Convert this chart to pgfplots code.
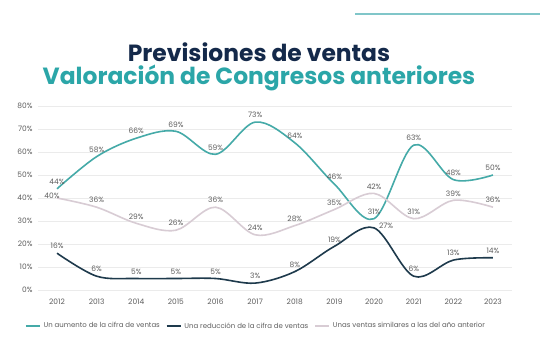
\documentclass[border=0pt]{standalone}
\usepackage{pgfplots}
\usepackage{pgfplotstable}
\pgfplotsset{compat=1.18}
\usepackage{fontspec}
\setmainfont{Poppins}
\definecolor{tealL}{HTML}{45AAA8}
\definecolor{navyL}{HTML}{1E3A4C}
\definecolor{grayL}{HTML}{D8CCD4}
\definecolor{titleN}{HTML}{14294A}
\definecolor{titleT}{HTML}{2BA6A8}
\definecolor{topline}{HTML}{80C6C9}
\definecolor{gridc}{HTML}{EBEBEB}
\definecolor{txt}{HTML}{5E5E5E}

\pgfplotstableread{
x y dx dy
2012 44 0 0
2013 58 0 0
2014 66 0 0
2015 69 0 0
2016 59 0 0
2017 73 0 0
2018 64 0 0
2019 46 0 0
2020 31 0 0
2021 63 0 0
2022 48 0 0
2023 50 0 0
}\aumento
\pgfplotstableread{
x y dx dy
2012 16 0 0
2013 6 0 0
2014 5 0 0
2015 5 0 0
2016 5 0 0
2017 3 0 0
2018 8 0 0
2019 19 0 0
2020 27 12 -5
2021 6 0 0
2022 13 0 0
2023 14 0 0
}\reduccion
\pgfplotstableread{
x y dx dy
2012 40 -5 -5
2013 36 0 0
2014 29 0 0
2015 26 0 0
2016 36 0 0
2017 24 0 0
2018 28 0 0
2019 35 0 0
2020 42 0 0
2021 31 0 0
2022 39 0 0
2023 36 0 0
}\similares

\begin{document}
\begin{tikzpicture}
\useasboundingbox (0bp,0bp) rectangle (540bp,340bp);
\fill[white] (0bp,0bp) rectangle (540bp,340bp);
\draw[line width=2bp, topline] (355bp,326bp) -- (540bp,326bp);
\node[anchor=base, text=titleN, font=\fontsize{23.5}{26}\selectfont\bfseries] at (259bp,278bp) {Previsiones de ventas};
\node[anchor=base, text=titleT, font=\fontsize{23.5}{26}\selectfont\bfseries] at (259bp,255bp) {Valoración de Congresos anteriores};
\begin{axis}[
  at={(38bp,50bp)}, anchor=south west, scale only axis,
  width=474bp, height=184bp,
  xmin=2011.52, xmax=2023.48, ymin=0, ymax=80,
  xtick={2012,...,2023}, ytick={0,10,...,80},
  /pgf/number format/1000 sep={},
  /pgf/number format/assume math mode=true,
  yticklabel={\pgfmathprintnumber{\tick}\%},
  ticklabel style={font=\fontsize{7.5}{9}\selectfont, text=txt},
  yticklabel style={xshift=-2bp},
  xticklabel style={yshift=-5bp},
  axis line style={draw=none},
  tick style={draw=none},
  ymajorgrids, major grid style={gridc, line width=0.6bp},
  clip=false,
  every axis plot/.append style={smooth, tension=0.55, line width=1.6bp, mark=none},
  nodes near coords={\pgfmathprintnumber{\pgfplotspointmeta}\%},
  point meta=explicit,
  visualization depends on={\thisrow{dx} \as \dx},
  visualization depends on={\thisrow{dy} \as \dy},
  every node near coord/.append style={font=\fontsize{7.5}{9}\selectfont, text=txt, xshift=\dx bp, yshift=\dy bp, /pgf/number format/assume math mode=true},
  legend style={at={(0.46,-0.196)}, anchor=center, draw=none, fill=none,
    legend columns=3, font=\fontsize{7}{8}\selectfont, text=txt,
    /tikz/every even column/.append style={column sep=4bp},
    /tikz/every odd column/.append style={column sep=1bp},
    inner sep=0pt},
  legend image code/.code={\draw[#1, line width=1.6bp] (0,0) -- (14bp,0);},
]
\addplot[tealL] table[x=x, y=y, meta=y] {\aumento};
\addlegendentry{Un aumento de la cifra de ventas}
\addplot[navyL] table[x=x, y=y, meta=y] {\reduccion};
\addlegendentry{Una reducción de la cifra de ventas}
\addplot[grayL] table[x=x, y=y, meta=y] {\similares};
\addlegendentry{Unas ventas similares a las del año anterior}
\end{axis}
\end{tikzpicture}
\end{document}
